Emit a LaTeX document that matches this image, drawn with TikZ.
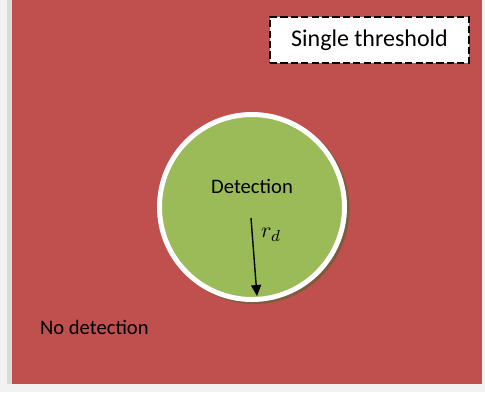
\documentclass[tikz,border=0pt]{standalone}
\usepackage{fontspec}
\setmainfont{Carlito}
\usepackage{tikz}
\usetikzlibrary{arrows.meta,positioning,calc}
\definecolor{zonered}{HTML}{C0504D}
\definecolor{zonegreen}{HTML}{9BBB59}
\definecolor{rimshadow}{HTML}{7D5B3C}
\definecolor{pagegray}{HTML}{F2F2F2}

\tikzset{
  zonetext/.style={font=\fontsize{10.3}{12}\selectfont, text=black},
  titlebox/.style={draw=black, fill=white, line width=1.3pt,
    dash pattern=on 3.6pt off 1.6pt, inner sep=0pt,
    minimum width=99.5pt, minimum height=23pt,
    font=\fontsize{12}{14}\selectfont},
  disc/.style={circle, fill=zonegreen, draw=white, line width=2.5pt,
    inner sep=0pt, minimum size=92.5pt},
}

\begin{document}
\begin{tikzpicture}[x=0.5pt,y=-0.5pt]
  % page and the no-detection area
  \fill[pagegray] (0,0) rectangle (485,392);
  \fill[pagegray!80!gray] (7,0) rectangle (12,384);
  \fill[zonered] (12,0) rectangle (482,384);
  % detection disc with its shadow
  \fill[rimshadow] (254.5,209) circle[radius=95];
  \node[disc] (zone) at (252,207) {};
  \node[zonetext] (det) at (252,186) {Detection};
  % detection radius
  \coordinate (rtop) at (251,218);
  \coordinate (rtip) at (257,296);
  \draw[line width=0.7pt, -{Triangle[length=5.5pt,width=5pt]}] (rtop) -- (rtip);
  \node[font=\fontsize{11}{13}\selectfont] (rlabel) at (271,235) {$r_d$};
  % outside label and title
  \node[zonetext, anchor=west] (nodet) at (33,327) {No detection};
  \node[titlebox] (title) at (369.5,40) {Single threshold};
\end{tikzpicture}
\end{document}
